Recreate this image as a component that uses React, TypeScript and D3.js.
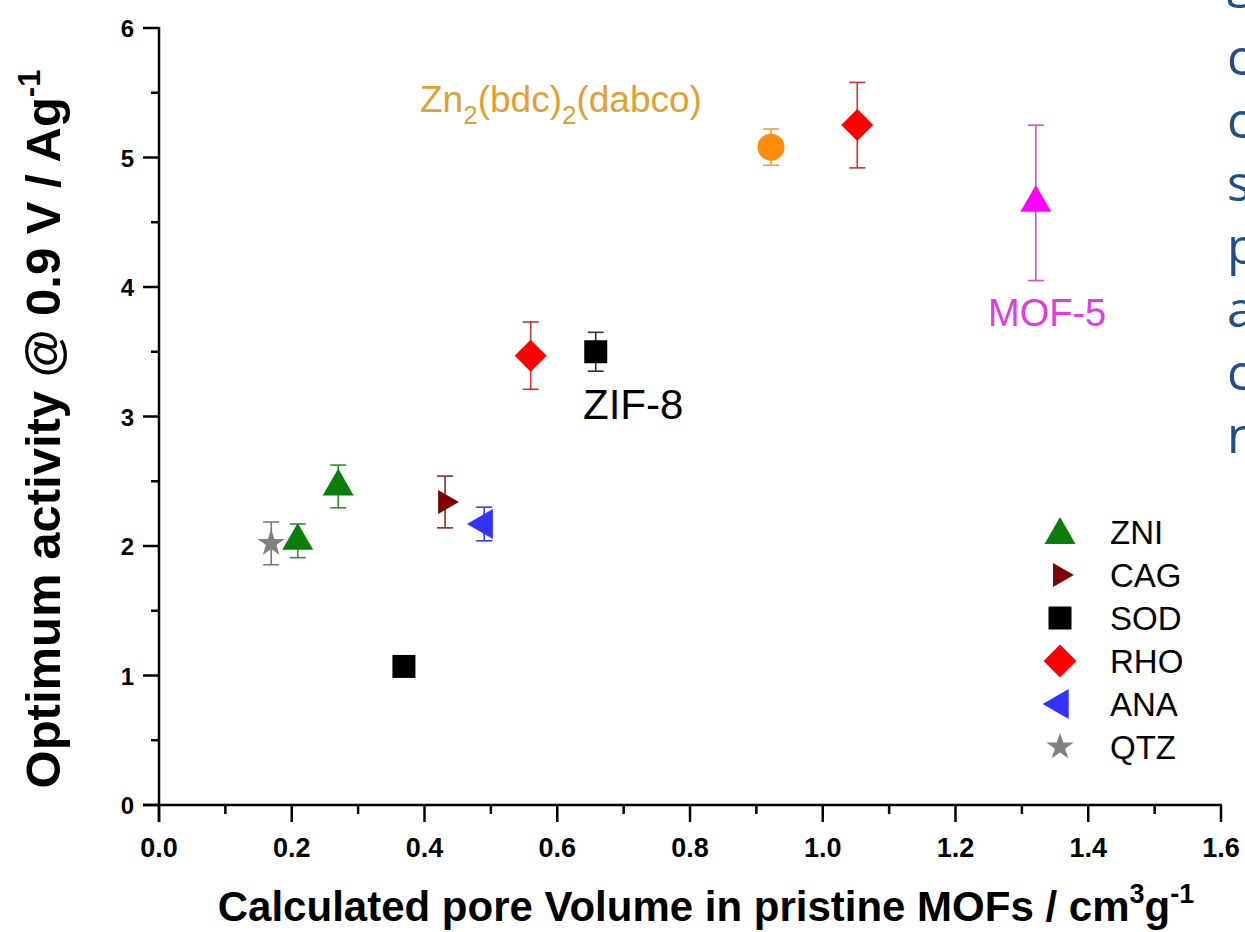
import * as React from "react";
import * as d3 from "d3";

// legend order
const categories = ["ZNI", "CAG", "SOD", "RHO", "ANA", "QTZ"];

// values: pore volume (cm3/g), activity (A/g), error
const zniX = [0.209, 0.27];
const zniY = [2.04, 2.46];
const zniErr = [0.13, 0.165];
const cagX = [0.431];
const cagY = [2.34];
const cagErr = [0.2];
const sodX = [0.369, 0.658];
const sodY = [1.07, 3.5];
const sodErr = [0, 0.15];
const rhoX = [0.56, 1.052];
const rhoY = [3.47, 5.25];
const rhoErr = [0.26, 0.33];
const anaX = [0.49];
const anaY = [2.17];
const anaErr = [0.13];
const qtzX = [0.169];
const qtzY = [2.02];
const qtzErr = [0.165];
const zn2X = [0.922];
const zn2Y = [5.08];
const zn2Err = [0.14];
const mof5X = [1.321];
const mof5Y = [4.65];
const mof5Err = [0.6];

const xMajor = [0, 0.2, 0.4, 0.6, 0.8, 1.0, 1.2, 1.4, 1.6];
const xMinor = [0.1, 0.3, 0.5, 0.7, 0.9, 1.1, 1.3, 1.5];
const yMajor = [0, 1, 2, 3, 4, 5, 6];
const yMinor = [0.5, 1.5, 2.5, 3.5, 4.5, 5.5];

// clipped first letters of the slide text on the right
const sideLetters = ["g", "c", "c", "s", "p", "a", "c", "n"];

const seriesData: Record<string, { xs: number[]; ys: number[]; es: number[] }> = {
  ZNI: { xs: zniX, ys: zniY, es: zniErr },
  CAG: { xs: cagX, ys: cagY, es: cagErr },
  SOD: { xs: sodX, ys: sodY, es: sodErr },
  RHO: { xs: rhoX, ys: rhoY, es: rhoErr },
  ANA: { xs: anaX, ys: anaY, es: anaErr },
  QTZ: { xs: qtzX, ys: qtzY, es: qtzErr },
  ZN2: { xs: zn2X, ys: zn2Y, es: zn2Err },
  MOF5: { xs: mof5X, ys: mof5Y, es: mof5Err },
};

const styles: Record<
  string,
  { fill: string; err: string; type: d3.SymbolType; size: number; rot: number; legSize?: number }
> = {
  ZNI: { fill: "#0a7d0a", err: "#2f8f2f", type: d3.symbolTriangle, size: 416, rot: 0 },
  CAG: { fill: "#7d0000", err: "#8a2a2a", type: d3.symbolTriangle, size: 249, rot: 90 },
  SOD: { fill: "#000000", err: "#333333", type: d3.symbolSquare, size: 529, rot: 0 },
  RHO: { fill: "#ff0000", err: "#cc3333", type: d3.symbolSquare, size: 512, rot: 45, legSize: 540 },
  ANA: { fill: "#3333ff", err: "#3a3af0", type: d3.symbolTriangle, size: 390, rot: -90 },
  QTZ: { fill: "#808080", err: "#7a7a7a", type: d3.symbolStar, size: 230, rot: 0 },
  ZN2: { fill: "#ff8c0a", err: "#e8a040", type: d3.symbolCircle, size: 573, rot: 0 },
  MOF5: { fill: "#ff00ff", err: "#d050d0", type: d3.symbolTriangle, size: 416, rot: 0 },
};

const W = 1245;
const H = 932;
const FONT = "'Liberation Sans', Arial, sans-serif";

const App: React.FC = () => {
  const x = d3.scaleLinear().domain([0, 1.6]).range([159, 1221]);
  const y = d3.scaleLinear().domain([0, 6]).range([805, 28]);
  const fx = d3.format(".1f");

  const sym = (key: string, legend = false) => {
    const s = styles[key];
    return d3.symbol().type(s.type).size(legend && s.legSize ? s.legSize : s.size)() || undefined;
  };

  const allKeys = [...categories, "ZN2", "MOF5"];
  const x0 = x(0);
  const y0 = y(0);

  return (
    <div style={{ position: "absolute", left: 0, top: 0, width: W, height: H, overflow: "hidden", background: "#fff" }}>
      <svg width={W} height={H} style={{ display: "block" }}>
        <rect width={W} height={H} fill="#fff" />

        {/* error bars */}
        {allKeys.map((k) =>
          seriesData[k].xs.map((xv, i) => {
            const e = seriesData[k].es[i];
            if (!e) return null;
            const cx = x(xv);
            const y1 = y(seriesData[k].ys[i] + e);
            const y2 = y(seriesData[k].ys[i] - e);
            return (
              <g key={`${k}-e-${i}`} stroke={styles[k].err} strokeWidth={1.6}>
                <line x1={cx} x2={cx} y1={y1} y2={y2} />
                <line x1={cx - 8} x2={cx + 8} y1={y1} y2={y1} />
                <line x1={cx - 8} x2={cx + 8} y1={y2} y2={y2} />
              </g>
            );
          })
        )}

        {/* markers */}
        {allKeys.map((k) =>
          seriesData[k].xs.map((xv, i) => (
            <path
              key={`${k}-m-${i}`}
              d={sym(k)}
              fill={styles[k].fill}
              transform={`translate(${x(xv)},${y(seriesData[k].ys[i])}) rotate(${styles[k].rot})`}
            />
          ))
        )}

        {/* axes */}
        <g stroke="#000" strokeWidth={2.5}>
          <line x1={x0 - 16} x2={x(1.6) + 1} y1={y0} y2={y0} />
          <line x1={x0} x2={x0} y1={y(6) - 1} y2={y0 + 17} />
          {xMajor.map((v) => (
            <line key={`xM${v}`} x1={x(v)} x2={x(v)} y1={y0} y2={y0 + 17} />
          ))}
          {xMinor.map((v) => (
            <line key={`xm${v}`} x1={x(v)} x2={x(v)} y1={y0} y2={y0 + 9} />
          ))}
          {yMajor.map((v) => (
            <line key={`yM${v}`} x1={x0 - 16} x2={x0} y1={y(v)} y2={y(v)} />
          ))}
          {yMinor.map((v) => (
            <line key={`ym${v}`} x1={x0 - 8} x2={x0} y1={y(v)} y2={y(v)} />
          ))}
        </g>
        <g fontFamily={FONT} fontWeight="bold" fill="#000">
          {xMajor.map((v) => (
            <text key={`xt${v}`} x={x(v)} y={y0 + 52} fontSize={27} textAnchor="middle">
              {fx(v)}
            </text>
          ))}
          {yMajor.map((v) => (
            <text key={`yt${v}`} x={x0 - 25} y={y(v) + 9} fontSize={24} textAnchor="end">
              {v}
            </text>
          ))}
        </g>

        {/* axis titles */}
        <text
          transform="translate(60,429) rotate(-90)"
          textAnchor="middle"
          fontFamily={FONT}
          fontWeight="bold"
          fontSize={49}
          fill="#000"
        >
          Optimum activity @ 0.9 V / Ag
          <tspan dy={-20} fontSize={31}>
            -1
          </tspan>
        </text>
        <text x={706} y={921} textAnchor="middle" fontFamily={FONT} fontWeight="bold" fontSize={42} fill="#000">
          Calculated pore Volume in pristine MOFs / cm
          <tspan dy={-18} fontSize={27}>
            3
          </tspan>
          <tspan dy={18}>g</tspan>
          <tspan dy={-18} fontSize={27}>
            -1
          </tspan>
        </text>

        {/* annotations */}
        <text x={420} y={112} fontFamily={FONT} fontSize={37} fill="#e3a02e">
          Zn
          <tspan dy={12} fontSize={26}>
            2
          </tspan>
          <tspan dy={-12}>(bdc)</tspan>
          <tspan dy={12} fontSize={26}>
            2
          </tspan>
          <tspan dy={-12}>(dabco)</tspan>
        </text>
        <text x={583} y={419} fontFamily={FONT} fontSize={42} fill="#000">
          ZIF-8
        </text>
        <text x={988} y={326} fontFamily={FONT} fontSize={38} fill="#e03ce0">
          MOF-5
        </text>

        {/* legend */}
        {categories.map((k, i) => {
          const ly = 532 + i * 43;
          return (
            <g key={`leg-${k}`}>
              <path
                d={sym(k, true)}
                fill={styles[k].fill}
                transform={`translate(1060,${ly + (styles[k].type === d3.symbolTriangle && styles[k].rot === 0 ? 3 : 0)}) rotate(${styles[k].rot})`}
              />
              <text x={1110} y={ly + 12} fontFamily={FONT} fontSize={33} fill="#000">
                {k}
              </text>
            </g>
          );
        })}

        {/* slide text clipped at the right edge */}
        {sideLetters.map((c, i) => (
          <text
            key={`side-${i}`}
            x={1227}
            y={-4 + (i === 0 ? 0 : 16) + i * 63}
            fontFamily="'Open Sans', 'Noto Sans', sans-serif"
            fontSize={50}
            fill="#1f4e89"
          >
            {c}
          </text>
        ))}
      </svg>
    </div>
  );
};

export default App;
